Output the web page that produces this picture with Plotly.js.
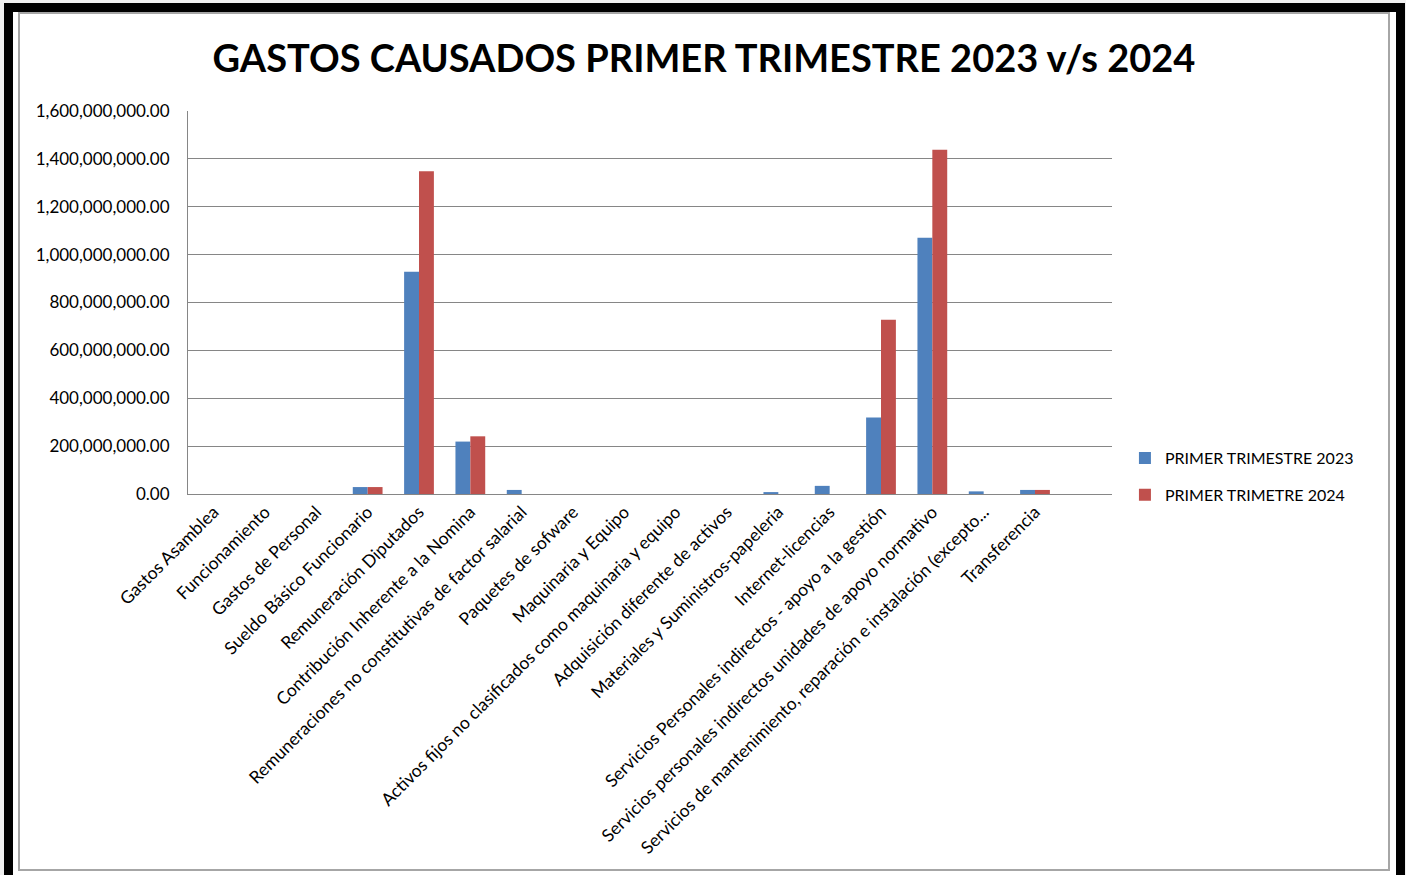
<!DOCTYPE html>
<html>
<head>
<meta charset="utf-8">
<script src="https://cdn.plot.ly/plotly-3.0.1.min.js"></script>
<style>
  body { margin: 0; background: #f0f0f0; width: 1406px; height: 875px; overflow: hidden; position: relative; }
  #frame { position: absolute; left: 4px; top: 3px; width: 1383px; height: 900px; border: 9px solid #000; background: #fff; }
  #chart { position: absolute; left: 18px; top: 12px; width: 1368px; height: 855px; border: 2px solid #a6a6a6; background: #fff; }
</style>
</head>
<body>
<div id="frame"></div>
<div id="chart"></div>
<script>
// categorias del eje x
var categorias = [
  'Gastos Asamblea',
  'Funcionamiento',
  'Gastos de Personal',
  'Sueldo Básico Funcionario',
  'Remuneración Diputados',
  'Contribución Inherente a la Nomina',
  'Remuneraciones no constitutivas de factor salarial',
  'Paquetes de sofware',
  'Maquinaria y Equipo',
  'Activos fijos no clasificados como maquinaria y equipo',
  'Adquisición diferente de activos',
  'Materiales y Suministros-papeleria',
  'Internet-licencias',
  'Servicios Personales indirectos - apoyo a la gestión',
  'Servicios personales indirectos unidades de apoyo normativo',
  'Servicios de mantenimiento, reparación e instalación (excepto...',
  'Transferencia',
  ' '
];

var trimestre2023 = [0, 0, 0, 29000000, 928000000, 219000000, 17000000, 0, 0, 0, 0, 8000000, 34000000, 320000000, 1070000000, 11000000, 17000000, 0];
var trimestre2024 = [0, 0, 0, 29000000, 1348000000, 241000000, 0, 0, 0, 0, 0, 0, 0, 728000000, 1438000000, 0, 17000000, 0];

var nombres = ['PRIMER TRIMESTRE 2023', 'PRIMER TRIMETRE 2024'];
var ticksY = [0, 200000000, 400000000, 600000000, 800000000, 1000000000, 1200000000, 1400000000, 1600000000];

var fuente = 'Lato, "Open Sans", sans-serif';

var data = [
  { type: 'bar', name: nombres[0], x: categorias, y: trimestre2023, legendgroup: 'a',
    marker: { color: '#4F81BD' } },
  { type: 'bar', name: nombres[1], x: categorias, y: trimestre2024, legendgroup: 'b',
    marker: { color: '#C0504D' } }
];

var layout = {
  width: 1368,
  height: 855,
  paper_bgcolor: '#fff',
  plot_bgcolor: '#fff',
  margin: { l: 168, r: 276, t: 97, b: 375 },
  font: { family: fuente, color: '#000', size: 15 },
  title: {
    text: '<b>GASTOS CAUSADOS PRIMER TRIMESTRE 2023 v/s 2024</b>',
    font: { family: fuente, size: 38, color: '#000' },
    x: 0.5, xanchor: 'center', y: 0.948, yanchor: 'middle'
  },
  bargap: 0.42,
  bargroupgap: 0,
  showlegend: true,
  legend: {
    x: 1.014, xanchor: 'left', y: 0.138, yanchor: 'top',
    font: { size: 16, color: '#000' },
    tracegroupgap: 13,
    itemwidth: 30,
    traceorder: 'grouped'
  },
  xaxis: {
    type: 'category',
    tickangle: -45,
    tickfont: { size: 17.5 },
    showline: true, linecolor: '#868686', linewidth: 1,
    ticks: '', showgrid: false,
    automargin: false
  },
  yaxis: {
    range: [0, 1600000000],
    tickvals: ticksY,
    tickformat: ',.2f',
    tickfont: { size: 17 },
    ticklabelstandoff: 14,
    showgrid: true, gridcolor: '#868686', gridwidth: 1,
    showline: true, linecolor: '#868686', linewidth: 1,
    zeroline: false,
    ticks: '', ticklen: 0,
    automargin: false
  }
};

Plotly.newPlot('chart', data, layout, { displayModeBar: false, staticPlot: true });
</script>
</body>
</html>
